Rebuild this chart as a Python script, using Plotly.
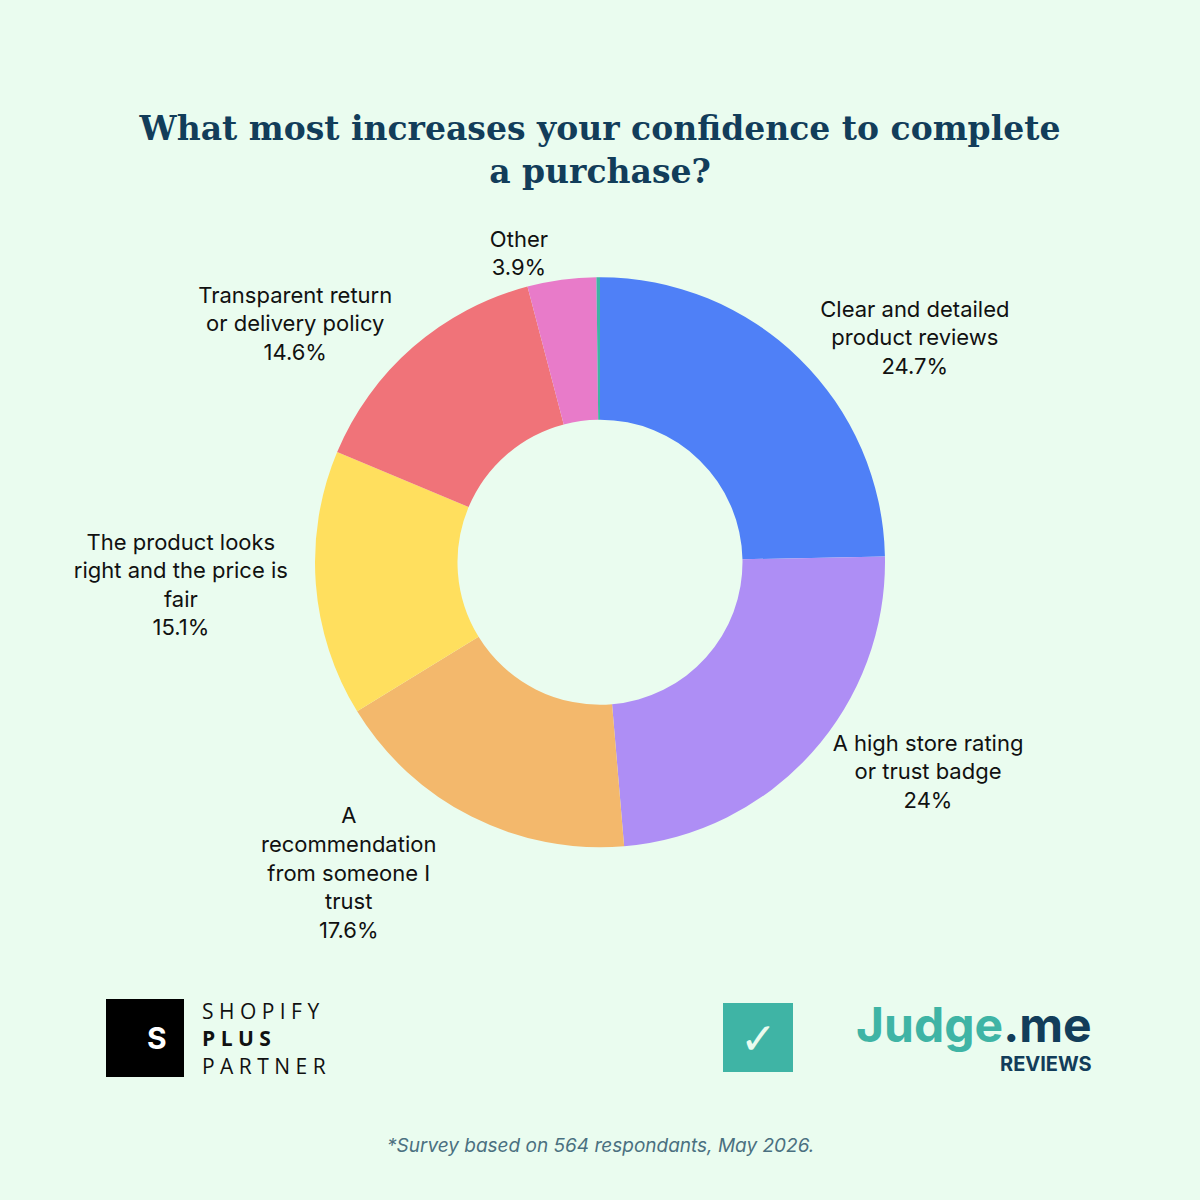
import plotly.graph_objects as go

labels = ["Clear and detailed<br>product reviews", "A high store rating<br>or trust badge",
          "A<br>recommendation<br>from someone I<br>trust", "The product looks<br>right and the price is<br>fair",
          "Transparent return<br>or delivery policy", "Other", ""]
values = [24.7, 24.0, 17.6, 15.1, 14.6, 3.9, 0.2]
pct_text = ["24.7%", "24%", "17.6%", "15.1%", "14.6%", "3.9%", ""]
colors = ["#4f80f7", "#ae8ef5", "#f3b86c", "#ffdf5e", "#f07379", "#e87bc9", "#3fb4a5"]

text = [f"{l}<br>{p}" if l else "" for l, p in zip(labels, pct_text)]

fig = go.Figure(go.Pie(
    values=values, text=text, textinfo="text", textposition="outside",
    marker=dict(colors=colors), hole=0.5, sort=False, direction="clockwise",
    rotation=0, showlegend=False, automargin=False,
    outsidetextfont=dict(family="Inter", size=22, color="#111111"),
    domain=dict(x=[0.2625, 0.7375], y=[0.294, 0.769]),
    hoverinfo="skip",
))

fig.update_layout(
    width=1200, height=1200, margin=dict(l=0, r=0, t=0, b=0),
    paper_bgcolor="#eafcef", plot_bgcolor="#eafcef",
    title=dict(text="<b>What most increases your confidence to complete<br>a purchase?</b>",
               x=0.5, y=1-140/1200, xanchor="center", yanchor="middle",
               font=dict(family="DejaVu Serif", size=33, color="#123d5a")),
)

# logos and footnote
fig.add_shape(type="rect", xref="paper", yref="paper", x0=106/1200, x1=184/1200,
              y0=1-1077/1200, y1=1-999/1200, fillcolor="#000000", line_width=0)
fig.add_annotation(xref="paper", yref="paper", x=145/1200, y=1-1038/1200, yanchor="middle",
                   text="<b>S</b>", showarrow=False,
                   font=dict(family="Inter", size=30, color="white"))
fig.add_annotation(xref="paper", yref="paper", x=200/1200, y=1-1038/1200, xanchor="left",
                   yanchor="middle", text="S H O P I F Y<br><b>P L U S</b><br>P A R T N E R",
                   align="left", showarrow=False,
                   font=dict(family="Open Sans", size=21, color="#111111"))
fig.add_shape(type="rect", xref="paper", yref="paper", x0=723/1200, x1=793/1200,
              y0=1-1072/1200, y1=1-1003/1200, fillcolor="#3fb4a5", line_width=0)
fig.add_annotation(xref="paper", yref="paper", x=758/1200, y=1-1038/1200, yanchor="middle",
                   text="<b>✓</b>", showarrow=False,
                   font=dict(family="DejaVu Sans", size=44, color="#eafcef"))
fig.add_annotation(xref="paper", yref="paper", x=1094/1200, y=1-1024/1200, xanchor="right",
                   yanchor="middle", text="<b><span style='color:#3fb4a5'>Judge</span>.me</b>",
                   showarrow=False, font=dict(family="Inter", size=48, color="#123d5a"))
fig.add_annotation(xref="paper", yref="paper", x=1094/1200, y=1-1064/1200, xanchor="right",
                   yanchor="middle", text="<b>REVIEWS</b>", showarrow=False,
                   font=dict(family="Inter", size=20, color="#123d5a"))
fig.add_annotation(xref="paper", yref="paper", x=0.5, y=1-1145/1200, yanchor="middle",
                   text="<i>*Survey based on 564 respondants, May 2026.</i>", showarrow=False,
                   font=dict(family="Inter", size=19, color="#4a7080"))

fig.write_html("out.html", config={"displayModeBar": False},
               post_script="document.body.style.margin='0';")
